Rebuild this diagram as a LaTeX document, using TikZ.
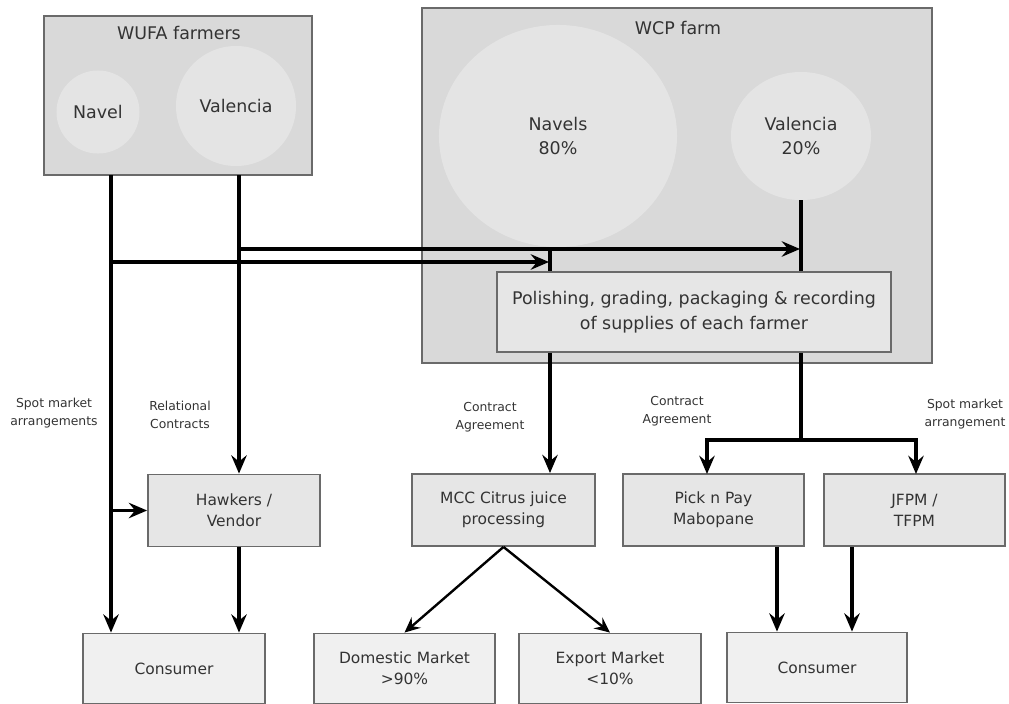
\documentclass[tikz,border=0pt]{standalone}
\usepackage{fontspec}
\setmainfont{DejaVu Sans}
\usetikzlibrary{shapes.geometric, arrows.meta, positioning, calc}

\definecolor{farmfill}{HTML}{D9D9D9}
\definecolor{cropfill}{HTML}{E4E4E4}
\definecolor{actorfill}{HTML}{E6E6E6}
\definecolor{endfill}{HTML}{F0F0F0}
\definecolor{edgegray}{HTML}{6A6A6A}
\definecolor{txtgray}{HTML}{333333}

\newcommand{\bigtxt}{\fontsize{12.4}{17.5}\selectfont}
\newcommand{\boxtxt}{\fontsize{11}{15}\selectfont}
\newcommand{\smalltxt}{\fontsize{8.8}{12.6}\selectfont}

\begin{document}
\begin{tikzpicture}[x=0.025cm, y=-0.025cm,
    farm/.style={draw=edgegray, line width=1.3pt, fill=farmfill, inner sep=0pt},
    crop/.style={ellipse, fill=cropfill, text=txtgray, align=center, inner sep=0pt, font=\bigtxt},
    actor/.style={draw=edgegray, line width=1.3pt, fill=actorfill, text=txtgray, align=center, font=\boxtxt, minimum height=1.8cm},
    market/.style={draw=edgegray, line width=1.3pt, fill=endfill, text=txtgray, align=center, font=\boxtxt, minimum height=1.75cm},
    tag/.style={text=txtgray, align=center, font=\smalltxt},
    flow/.style={line width=2.5pt, -{Stealth[length=13pt, width=11pt, inset=4.5pt]}},
    link/.style={line width=2.5pt},
    split/.style={line width=1.7pt, -{Stealth[length=11pt, width=10pt, inset=4pt]}}]
        \useasboundingbox (0,0) rectangle (1009,704);

        % WUFA farmers
        \node[farm, minimum width=6.7cm, minimum height=3.975cm] (wufa) at (178,95.5) {};
        \node[text=txtgray, font=\bigtxt] (wufatitle) at (179,33) {WUFA farmers};
        \node[crop, minimum width=2.075cm, minimum height=2.075cm] (navA) at (98,112) {Navel};
        \node[crop, minimum width=3cm, minimum height=3cm] (valA) at (236,106) {Valencia};

        % WCP farm
        \node[farm, minimum width=12.75cm, minimum height=8.875cm] (wcp) at (677,185.5) {};
        \node[text=txtgray, font=\bigtxt] (wcptitle) at (678,28) {WCP farm};
        \node[crop, minimum width=5.95cm, minimum height=5.55cm] (navB) at (558,136) {Navels\\80\%};
        \node[crop, minimum width=3.5cm, minimum height=3.2cm] (valB) at (801,136) {Valencia\\20\%};
        \node[actor, minimum width=9.85cm, minimum height=2cm, font=\bigtxt] (polish) at (694,312)
            {Polishing, grading, packaging \& recording\\of supplies of each farmer};

        % Buyers
        \node[actor, minimum width=4.3cm] (hawk) at (234,510.5) {Hawkers /\\Vendor};
        \node[actor, minimum width=4.575cm] (mcc) at (503.5,510) {MCC Citrus juice\\processing};
        \node[actor, minimum width=4.525cm] (pnp) at (713.5,510) {Pick n Pay\\Mabopane};
        \node[actor, minimum width=4.525cm] (jfpm) at (914.5,510) {JFPM /\\TFPM};

        % End markets
        \node[market, minimum width=4.55cm] (consA) at (174,668.5) {Consumer};
        \node[market, minimum width=4.525cm] (dom) at (404.5,668.5) {Domestic Market\\>90\%};
        \node[market, minimum width=4.55cm] (exp) at (610,668.5) {Export Market\\<10\%};
        \node[market, minimum width=4.5cm] (consB) at (817,667.5) {Consumer};

        % Arrangement labels
        \node[tag] (spotA) at (54,413) {Spot market\\arrangements};
        \node[tag] (relA) at (180,415) {Relational\\Contracts};
        \node[tag] (ctrA) at (490,417) {Contract\\Agreement};
        \node[tag] (ctrB) at (677,411) {Contract\\Agreement};
        \node[tag] (spotB) at (965,414) {Spot market\\arrangement};

        % Junctions
        \coordinate (navOut) at (111,175);
        \coordinate (valOut) at (239,175);
        \coordinate (navJoin) at (111,262);
        \coordinate (valJoin) at (239,249);
        \coordinate (navIn) at (549,262);
        \coordinate (valIn) at (800,249);
        \coordinate (navTop) at (550,249);
        \coordinate (hawkJoin) at (111,510.5);
        \coordinate (retail) at (801,440);
        \coordinate (pnpIn) at (707,474);
        \coordinate (jfpmIn) at (916,474);

        % WUFA flows
        \draw[flow] (navOut) -- (navOut |- consA.north);
        \draw[flow] (valOut) -- (valOut |- hawk.north);
        \draw[flow] (navJoin) -- (navIn);
        \draw[flow] (valJoin) -- (valIn);
        \draw[flow] (hawkJoin) -- (hawk.west);
        \draw[flow] (hawk.south -| valOut) -- (valOut |- consA.north);

        % into the packhouse
        \draw[link] (navTop) -- (navTop |- polish.north);
        \draw[link] (valB.south) -- (valB.south |- polish.north);

        % WCP flows
        \draw[flow] (polish.south -| navTop) -- (navTop |- mcc.north);
        \draw[link] (polish.south -| retail) -- (retail);
        \draw[flow] (retail) -| (pnpIn);
        \draw[flow] (retail) -| (jfpmIn);

        % juice split
        \draw[split] (mcc.south) -- (dom.north);
        \draw[split] (mcc.south) -- (exp.north);

        % retail to consumer
        \draw[flow] ($(pnp.south)+(63.5,0)$) coordinate (pnpOut) -- (pnpOut |- consB.north);
        \draw[flow] ($(jfpm.south)+(-62.5,0)$) coordinate (jfpmOut) -- (jfpmOut |- consB.north);
\end{tikzpicture}
\end{document}
